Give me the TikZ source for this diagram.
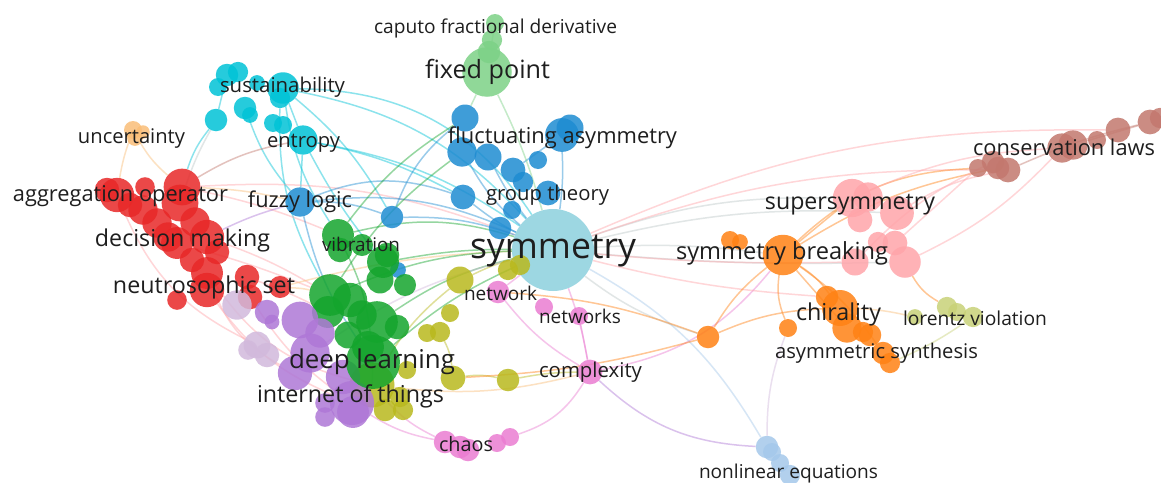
\documentclass[tikz,border=0pt]{standalone}
\usepackage{fontspec}
\setmainfont{Open Sans}
\usepackage{graphicx}
\pgfdeclarelayer{bg}\pgfdeclarelayer{fg}\pgfsetlayers{bg,main,fg}
\definecolor{cRed}{RGB}{232,40,40}
\definecolor{cCy}{RGB}{0,195,215}
\definecolor{cBlue}{RGB}{30,140,210}
\definecolor{cLG}{RGB}{125,210,135}
\definecolor{cSym}{RGB}{140,208,222}
\definecolor{cGr}{RGB}{20,165,45}
\definecolor{cPur}{RGB}{175,120,215}
\definecolor{cLPur}{RGB}{210,185,220}
\definecolor{cYel}{RGB}{185,185,30}
\definecolor{cPink}{RGB}{235,125,210}
\definecolor{cOr}{RGB}{255,130,20}
\definecolor{cLOr}{RGB}{250,190,120}
\definecolor{cSS}{RGB}{255,165,170}
\definecolor{cBr}{RGB}{195,120,110}
\definecolor{cLor}{RGB}{200,210,120}
\definecolor{cNL}{RGB}{165,200,235}
\definecolor{cGrey}{RGB}{190,200,200}
\definecolor{txt}{RGB}{30,30,30}
\tikzset{
  bubble/.style={circle,inner sep=0pt,draw=none,fill opacity=0.85},
  lblst/.style={inner sep=0pt,text=txt},
  lk/.style={line width=1.5pt,draw opacity=0.45}
}
\newcommand\bub[5]{\node[bubble,fill=#5,minimum size=#4*2.25pt] (#1) at (#2,#3) {};}
\newcommand\bubL[5]{\node[bubble,fill=#5,minimum size=#4*2.45pt] (#1) at (#2,#3) {};}
\newcommand\lbl[5]{\node[lblst] (#1) at (#2,#3) {\resizebox{#4pt}{!}{#5}};}
\newcommand\lk[4]{\draw[lk,#3] (#1) to[#4] (#2);}
\begin{document}
\begin{tikzpicture}[x=1pt,y=-1pt]
\useasboundingbox (0,0) rectangle (1161,482);
\begin{pgfonlayer}{bg}
\fill[white] (0,0) rectangle (1161,482);
\end{pgfonlayer}
% symmetry
\node[bubble,fill=cSym,minimum size=82pt] (sym) at (553,250) {};
% cyan
\bub{cy1}{227}{75}{10}{cCy}\bub{cy2}{238}{72}{9}{cCy}\bub{cy3}{218}{87}{8}{cCy}
\bub{cy4}{257}{83}{7}{cCy}\bub{cy5}{283}{88}{14}{cCy}\bub{cy6}{280}{98}{9}{cCy}
\bub{cy7}{245}{108}{10}{cCy}\bub{cy8}{250}{115}{7}{cCy}\bub{cy9}{216}{120}{10}{cCy}
\bub{cy10}{273}{123}{8}{cCy}\bub{cy11}{283}{125}{8}{cCy}\bub{cy12}{303}{140}{13}{cCy}
% uncertainty
\bub{un1}{133}{130}{8}{cLOr}\bub{un2}{143}{132}{6}{cLOr}\bub{un3}{135}{138}{7}{cLOr}
% red
\bubL{rd1}{182}{187}{15}{cRed}\bubL{rd2}{180}{203}{15}{cRed}\bubL{rd3}{117}{195}{14}{cRed}
\bubL{rd4}{107}{190}{10}{cRed}\bubL{rd5}{145}{187}{8}{cRed}\bubL{rd6}{143}{210}{12}{cRed}
\bubL{rd7}{157}{223}{12}{cRed}\bubL{rd8}{177}{243}{13}{cRed}\bubL{rd9}{207}{237}{14}{cRed}
\bubL{rd10}{217}{252}{10}{cRed}\bubL{rd11}{192}{260}{10}{cRed}\bubL{rd12}{207}{273}{13}{cRed}
\bubL{rd13}{207}{290}{14}{cRed}\bubL{rd14}{247}{277}{10}{cRed}\bubL{rd15}{250}{297}{10}{cRed}
\bubL{rd16}{280}{287}{9}{cRed}\bubL{rd17}{177}{300}{8}{cRed}\bubL{rd18}{168}{237}{12}{cRed}
\bubL{rd19}{130}{205}{10}{cRed}\bubL{rd20}{195}{222}{12}{cRed}
% blue
\bub{fz}{300}{202}{13}{cBlue}\bub{bl1}{465}{118}{12}{cBlue}\bub{bl2}{462}{152}{13}{cBlue}
\bub{bl3}{488}{157}{12}{cBlue}\bub{bl4}{513}{170}{11}{cBlue}\bub{bl5}{523}{182}{9}{cBlue}
\bub{bl6}{538}{160}{8}{cBlue}\bub{bl7}{562}{135}{15}{cBlue}\bub{bl8}{570}{128}{12}{cBlue}
\bub{bl9}{548}{193}{11}{cBlue}\bub{bl10}{463}{197}{11}{cBlue}\bub{bl11}{512}{210}{8}{cBlue}
\bub{bl12}{500}{228}{10}{cBlue}\bub{bl13}{392}{217}{10}{cBlue}\bub{bl14}{398}{270}{7}{cBlue}
% fixed point
\bub{fp1}{487}{72}{22}{cLG}\bub{fp4}{489}{52}{10}{cLG}\bub{fp2}{492}{40}{9}{cLG}\bub{fp3}{495}{23}{8}{cLG}
% green
\bubL{gr1}{338}{235}{13}{cGr}\bubL{gr2}{340}{250}{10}{cGr}\bubL{gr3}{362}{245}{9}{cGr}
\bubL{gr4}{383}{262}{13}{cGr}\bubL{gr5}{380}{280}{11}{cGr}\bubL{gr6}{387}{255}{10}{cGr}
\bubL{gr7}{405}{285}{9}{cGr}\bubL{gr8}{330}{295}{17}{cGr}\bubL{gr9}{350}{300}{14}{cGr}
\bubL{gr10}{328}{312}{13}{cGr}\bubL{gr11}{377}{322}{17}{cGr}\bubL{gr12}{397}{327}{10}{cGr}
\bubL{gr13}{348}{335}{11}{cGr}\bubL{gr16}{362}{315}{12}{cGr}
% yellow
\bub{ye1}{460}{280}{12}{cYel}\bub{ye2}{450}{313}{8}{cYel}\bub{ye3}{427}{333}{8}{cYel}
\bub{ye4}{440}{332}{9}{cYel}\bub{ye5}{453}{378}{11}{cYel}\bub{ye6}{508}{380}{10}{cYel}
\bub{ye7}{508}{270}{9}{cYel}\bub{ye8}{520}{265}{9}{cYel}\bub{ye9}{407}{370}{8}{cYel}
\bub{ye10}{372}{385}{20}{cYel}\bub{ye11}{385}{410}{10}{cYel}\bub{ye12}{403}{410}{9}{cYel}
\bub{ye13}{400}{397}{9}{cYel}
% purple
\bubL{pu1}{237}{305}{12}{cLPur}\bubL{pu2}{267}{312}{10}{cPur}\bubL{pu3}{272}{322}{6}{cPur}
\bubL{pu4}{300}{320}{15}{cPur}\bubL{pu5}{320}{333}{12}{cPur}\bubL{pu6}{257}{345}{11}{cLPur}
\bubL{pu7}{248}{350}{8}{cLPur}\bubL{pu8}{267}{355}{10}{cLPur}\bubL{pu9}{310}{353}{16}{cPur}
\bubL{pu10}{295}{373}{14}{cPur}\bubL{pu11}{343}{377}{14}{cPur}\bubL{pu12}{352}{403}{18}{cPur}
\bubL{pu13}{325}{403}{8}{cPur}\bubL{pu14}{325}{417}{8}{cPur}\bubL{pu15}{353}{412}{13}{cPur}
% green front
\bubL{gr15}{368}{347}{13}{cGr}\bubL{gr14}{373}{362}{22}{cGr}
% pink
\bub{nw}{498}{292}{10}{cPink}\bub{nws1}{544}{307}{8}{cPink}\bub{nws2}{579}{316}{8}{cPink}
\bub{cx}{590}{372}{11}{cPink}\bub{ch1}{445}{442}{10}{cPink}\bub{ch2}{460}{447}{10}{cPink}
\bub{ch3}{468}{450}{10}{cPink}\bub{ch4}{497}{443}{8}{cPink}\bub{ch5}{510}{437}{8}{cPink}
% orange
\bub{sb}{783}{255}{18}{cOr}\bub{or1}{730}{240}{8}{cOr}\bub{or2}{740}{242}{7}{cOr}
\bub{or3}{708}{337}{10}{cOr}\bub{or4}{788}{328}{8}{cOr}\bub{or5}{827}{297}{10}{cOr}
\bub{chir}{840}{308}{16}{cOr}\bub{or6}{847}{328}{13}{cOr}\bub{or7}{863}{332}{9}{cOr}
\bub{or8}{870}{335}{10}{cOr}\bub{or9}{883}{353}{10}{cOr}\bub{or10}{890}{363}{9}{cOr}
% supersymmetry
\bub{ss1}{852}{198}{17}{cSS}\bub{ss2}{868}{197}{13}{cSS}\bub{ss3}{860}{220}{11}{cSS}
\bub{ss4}{897}{213}{15}{cSS}\bub{ss5}{878}{242}{9}{cSS}\bub{ss6}{895}{243}{11}{cSS}
\bub{ss7}{855}{262}{12}{cSS}\bub{ss8}{905}{262}{14}{cSS}
% brown
\bub{br1}{978}{168}{8}{cBr}\bub{br2}{993}{162}{10}{cBr}\bub{br3}{998}{168}{10}{cBr}
\bub{br4}{1008}{170}{11}{cBr}\bub{br5}{1062}{148}{13}{cBr}\bub{br6}{1073}{145}{13}{cBr}
\bub{br7}{1097}{140}{8}{cBr}\bub{br8}{1118}{130}{11}{cBr}\bub{br9}{1150}{122}{11}{cBr}
\bub{br10}{1160}{118}{9}{cBr}
% lorentz
\bub{lo1}{947}{307}{9}{cLor}\bub{lo2}{957}{312}{8}{cLor}\bub{lo3}{915}{317}{7}{cLor}\bub{lo4}{973}{317}{9}{cLor}
% nonlinear
\bub{nl1}{767}{447}{10}{cNL}\bub{nl2}{772}{452}{8}{cNL}\bub{nl3}{780}{463}{8}{cNL}\bub{nl4}{790}{475}{9}{cNL}

\begin{pgfonlayer}{bg}
\lk{cy5}{sym}{cCy}{bend left=28}
\lk{cy5}{sym}{cCy}{bend left=18}
\lk{cy12}{sym}{cCy}{bend left=12}
\lk{cy12}{bl10}{cCy}{bend left=8}
\lk{cy9}{rd1}{cCy}{bend right=10}
\lk{cy9}{rd2}{cGrey}{bend right=5}
\lk{cy7}{fz}{cCy}{bend right=10}
\lk{cy12}{fz}{cCy}{bend left=0}
\lk{cy5}{gr1}{cCy}{bend right=12}
\lk{cy6}{gr8}{cCy}{bend right=15}
\lk{cy12}{gr4}{cCy}{bend right=5}
\lk{cy5}{bl13}{cCy}{bend left=10}
\lk{cy5}{cy12}{cCy}{bend left=0}
\lk{cy9}{cy1}{cCy}{bend left=0}
\lk{un1}{rd1}{cLOr}{bend right=10}
\lk{un1}{rd3}{cLOr}{bend right=5}
\lk{rd1}{cy12}{cBr}{bend left=10}
\lk{rd1}{fz}{cLOr}{bend left=5}
\lk{rd1}{sym}{cSS}{bend left=12}
\lk{rd1}{gr1}{cSS}{bend left=5}
\lk{rd9}{gr8}{cSS}{bend left=5}
\lk{rd8}{gr8}{cSS}{bend left=3}
\lk{rd14}{gr10}{cSS}{bend left=3}
\lk{rd12}{pu10}{cSS}{bend right=20}
\lk{rd13}{pu12}{cSS}{bend right=15}
\lk{rd12}{ye10}{cSS}{bend right=20}
\lk{rd15}{pu12}{cSS}{bend right=10}
\lk{rd3}{pu6}{cSS}{bend right=20}
\lk{rd16}{gr8}{cLOr}{bend left=5}
\lk{rd16}{sym}{cLOr}{bend left=6}
\lk{rd9}{fz}{cPur}{bend left=5}
\lk{fz}{sym}{cBlue}{bend left=15}
\lk{fz}{gr14}{cBlue}{bend right=10}
\lk{fz}{bl10}{cBlue}{bend left=20}
\lk{fz}{bl13}{cBlue}{bend left=10}
\lk{bl2}{sym}{cBlue}{bend right=10}
\lk{bl3}{sym}{cBlue}{bend right=5}
\lk{bl7}{sym}{cBlue}{bend left=5}
\lk{bl10}{sym}{cBlue}{bend right=5}
\lk{bl13}{sym}{cBlue}{bend left=10}
\lk{bl1}{bl13}{cBlue}{bend right=15}
\lk{bl7}{bl4}{cBlue}{bend left=0}
\lk{bl1}{fp1}{cLG}{bend left=0}
\lk{fp1}{sym}{cLG}{bend left=5}
\lk{fp1}{fp3}{cLG}{bend left=0}
\lk{gr1}{sym}{cGr}{bend left=15}
\lk{gr8}{sym}{cGr}{bend left=10}
\lk{gr11}{sym}{cGr}{bend left=10}
\lk{gr14}{sym}{cGr}{bend left=8}
\lk{gr4}{sym}{cGr}{bend left=5}
\lk{gr1}{gr14}{cGr}{bend left=10}
\lk{gr8}{bl2}{cGr}{bend left=10}
\lk{gr1}{bl1}{cGr}{bend left=10}
\lk{ye1}{sym}{cYel}{bend left=5}
\lk{ye5}{ye6}{cYel}{bend left=10}
\lk{ye6}{cx}{cYel}{bend left=5}
\lk{ye10}{cx}{cLOr}{bend right=10}
\lk{ye1}{ye10}{cYel}{bend right=10}
\lk{ye4}{ye5}{cYel}{bend left=10}
\lk{ye10}{ch1}{cPink}{bend right=10}
\lk{cx}{ch5}{cPink}{bend left=20}
\lk{cx}{nws2}{cPink}{bend left=0}
\lk{cx}{nw}{cPink}{bend left=10}
\lk{cx}{sb}{cPink}{bend right=20}
\lk{cx}{nl1}{cPur}{bend right=20}
\lk{cx}{sym}{cPink}{bend right=5}
\lk{nw}{sym}{cPink}{bend left=0}
\lk{sym}{nl1}{cNL}{bend left=15}
\lk{or4}{nl1}{cLPur}{bend right=10}
\lk{sym}{sb}{cGrey}{bend left=5}
\lk{sym}{ss1}{cGrey}{bend left=10}
\lk{sym}{ss4}{cGrey}{bend left=8}
\lk{sym}{ss8}{cGrey}{bend right=3}
\lk{sym}{br4}{cSS}{bend left=10}
\lk{sym}{br8}{cSS}{bend left=12}
\lk{sym}{or3}{cGrey}{bend right=10}
\lk{sym}{ss7}{cSS}{bend right=3}
\lk{sym}{or5}{cSS}{bend right=5}
\lk{pu9}{sym}{cLPur}{bend left=10}
\lk{sb}{chir}{cOr}{bend left=10}
\lk{sb}{or6}{cOr}{bend left=0}
\lk{sb}{or3}{cOr}{bend right=10}
\lk{sb}{or4}{cOr}{bend right=15}
\lk{sb}{br1}{cOr}{bend left=20}
\lk{sb}{br3}{cOr}{bend left=10}
\lk{sb}{ss1}{cOr}{bend left=0}
\lk{sb}{or9}{cOr}{bend left=10}
\lk{or3}{chir}{cOr}{bend left=10}
\lk{or3}{nw}{cOr}{bend right=8}
\lk{or3}{ye5}{cOr}{bend left=6}
\lk{ss1}{br5}{cSS}{bend left=10}
\lk{ss4}{br4}{cSS}{bend left=10}
\lk{ss8}{br5}{cSS}{bend right=10}
\lk{ss7}{br2}{cSS}{bend left=10}
\lk{ss6}{br1}{cSS}{bend left=0}
\lk{ss8}{lo1}{cOr}{bend right=15}
\lk{chir}{lo3}{cLOr}{bend left=5}
\lk{or10}{lo4}{cLor}{bend right=5}
\lk{br4}{br9}{cBr}{bend left=5}
\lk{br6}{br9}{cBr}{bend left=0}
\lk{pu12}{ch1}{cPink}{bend right=10}
\lk{pu4}{gr8}{cPur}{bend left=0}
\lk{gr14}{ye10}{cGr}{bend left=0}
\end{pgfonlayer}

\begin{pgfonlayer}{fg}
\lbl{l1}{495.5}{28}{243}{caputo fractional derivative}
\lbl{l2}{487.5}{72}{125}{fixed point}
\lbl{l3}{282.5}{87}{125}{sustainability}
\lbl{l4}{131.5}{139}{107}{uncertainty}
\lbl{l5}{303.5}{143}{73}{entropy}
\lbl{l6}{562.5}{138}{229}{fluctuating asymmetry}
\lbl{l7}{1064}{147}{182}{conservation laws}
\lbl{l8}{120.5}{196}{215}{aggregation operator}
\lbl{l9}{300}{202}{104}{fuzzy logic}
\lbl{l10}{547.5}{195}{123}{group theory}
\lbl{l11}{850}{205}{170}{supersymmetry}
\lbl{l12}{182.5}{240}{175}{decision making}
\lbl{l13}{361}{244}{78}{vibration}
\lbl{l14}{553}{251}{166}{symmetry}
\lbl{l15}{782}{253}{212}{symmetry breaking}
\lbl{l16}{204}{287}{182}{neutrosophic set}
\lbl{l17}{500.5}{293}{73}{network}
\lbl{l18}{580}{316}{82}{networks}
\lbl{l19}{838.5}{314}{85}{chirality}
\lbl{l20}{975}{318}{144}{lorentz violation}
\lbl{l21}{876.5}{353}{203}{asymmetric synthesis}
\lbl{l22}{372}{362}{166}{deep learning}
\lbl{l23}{590.5}{372}{103}{complexity}
\lbl{l24}{350.5}{396}{187}{internet of things}
\lbl{l25}{466}{444}{54}{chaos}
\lbl{l26}{788.5}{474}{179}{nonlinear equations}
\end{pgfonlayer}
\end{tikzpicture}
\end{document}
